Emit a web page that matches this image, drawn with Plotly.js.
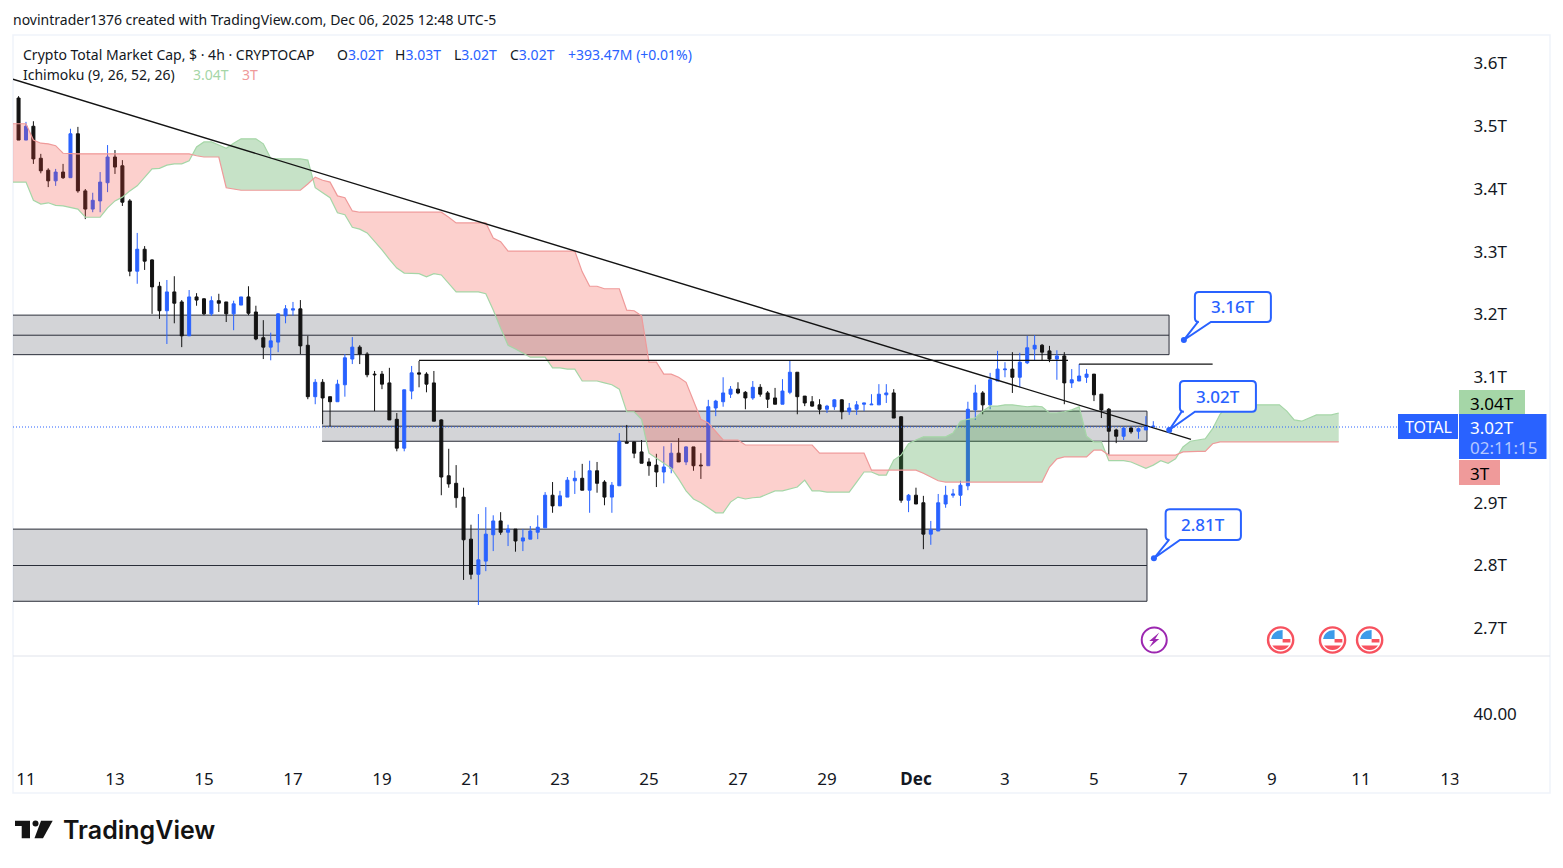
<!DOCTYPE html>
<html><head><meta charset="utf-8">
<script src="https://cdn.plot.ly/plotly-3.0.1.min.js"></script>
<style>html,body{margin:0;padding:0;background:#fff}#c{width:1563px;height:868px}</style>
</head><body><div id="c"></div>
<script>
const open=[3.545,3.478,3.500,3.449,3.430,3.413,3.427,3.418,3.488,3.397,
3.368,3.381,3.410,3.451,3.437,3.381,3.269,3.304,3.287,3.245,
3.206,3.236,3.220,3.166,3.228,3.225,3.201,3.222,3.220,3.201,
3.215,3.228,3.204,3.163,3.148,3.156,3.198,3.207,3.209,3.151,
3.069,3.092,3.069,3.061,3.088,3.129,3.148,3.137,3.105,3.105,
3.091,3.033,2.987,3.078,3.107,3.105,3.091,3.032,2.943,2.931,
2.909,2.842,2.786,2.807,2.849,2.871,2.853,2.858,2.839,2.842,
2.853,2.860,2.912,2.895,2.909,2.935,2.939,2.920,2.951,2.933,
2.909,2.927,2.997,2.997,2.981,2.965,2.960,2.949,2.955,2.979,
2.965,2.989,2.960,2.959,3.051,3.061,3.073,3.081,3.076,3.067,
3.084,3.075,3.067,3.057,3.076,3.108,3.070,3.061,3.056,3.049,
3.053,3.064,3.045,3.049,3.057,3.056,3.056,3.072,3.075,3.037,
2.904,2.912,2.900,2.850,2.855,2.898,2.912,2.912,2.927,3.048,
3.075,3.056,3.094,3.112,3.113,3.100,3.123,3.145,3.151,3.142,
3.129,3.134,3.091,3.094,3.100,3.105,3.073,3.049,3.016,3.006,
3.019,3.014,3.016,3.021];
const high=[3.548,3.507,3.508,3.456,3.433,3.432,3.440,3.496,3.499,3.400,
3.394,3.427,3.470,3.462,3.446,3.384,3.330,3.309,3.288,3.252,
3.255,3.261,3.223,3.239,3.234,3.226,3.229,3.233,3.220,3.222,
3.228,3.245,3.214,3.191,3.171,3.202,3.215,3.220,3.223,3.166,
3.097,3.097,3.069,3.096,3.137,3.164,3.151,3.140,3.110,3.110,
3.115,3.043,3.080,3.118,3.126,3.108,3.110,3.033,2.986,2.960,
2.924,2.865,2.882,2.893,2.880,2.885,2.865,2.858,2.858,2.863,
2.880,2.917,2.933,2.919,2.941,2.951,2.962,2.967,2.965,2.936,
2.933,3.011,3.024,2.997,3.000,2.971,2.978,2.990,2.995,3.003,
2.990,2.989,2.979,3.064,3.064,3.100,3.086,3.092,3.078,3.094,
3.089,3.078,3.083,3.097,3.126,3.108,3.070,3.070,3.065,3.056,
3.065,3.065,3.059,3.062,3.059,3.073,3.089,3.089,3.081,3.038,
2.914,2.924,2.911,2.871,2.914,2.927,2.922,2.935,3.061,3.088,
3.078,3.107,3.142,3.124,3.140,3.139,3.166,3.167,3.153,3.150,
3.143,3.140,3.113,3.121,3.113,3.105,3.073,3.051,3.018,3.021,
3.021,3.019,3.038,3.030];
const low=[3.478,3.478,3.440,3.425,3.403,3.405,3.416,3.418,3.394,3.352,
3.363,3.363,3.395,3.424,3.373,3.261,3.249,3.271,3.201,3.193,
3.153,3.186,3.148,3.166,3.214,3.199,3.198,3.204,3.188,3.175,
3.215,3.199,3.159,3.129,3.127,3.140,3.186,3.198,3.137,3.065,
3.057,3.025,3.022,3.061,3.069,3.121,3.121,3.100,3.046,3.081,
3.032,2.982,2.982,3.065,3.084,3.076,3.030,2.912,2.924,2.892,
2.777,2.778,2.737,2.791,2.823,2.849,2.831,2.822,2.823,2.842,
2.842,2.860,2.884,2.895,2.909,2.914,2.920,2.884,2.916,2.896,
2.884,2.927,2.995,2.971,2.963,2.943,2.925,2.931,2.947,2.965,
2.960,2.951,2.938,2.959,3.038,3.053,3.067,3.073,3.049,3.064,
3.069,3.051,3.057,3.057,3.073,3.041,3.054,3.053,3.041,3.043,
3.048,3.033,3.040,3.040,3.046,3.056,3.056,3.059,3.035,2.900,
2.885,2.898,2.826,2.833,2.855,2.892,2.908,2.895,2.920,3.032,
3.041,3.049,3.094,3.100,3.075,3.084,3.121,3.127,3.127,3.124,
3.096,3.057,3.083,3.094,3.091,3.062,3.035,2.976,2.995,3.000,
3.010,3.002,3.016,3.019];
const close=[3.478,3.500,3.448,3.429,3.413,3.427,3.418,3.488,3.397,3.368,
3.382,3.411,3.451,3.435,3.379,3.269,3.304,3.285,3.244,3.206,
3.236,3.218,3.166,3.228,3.223,3.201,3.222,3.218,3.201,3.217,
3.228,3.202,3.161,3.148,3.158,3.201,3.209,3.209,3.150,3.069,
3.092,3.067,3.061,3.089,3.131,3.148,3.137,3.104,3.104,3.089,
3.032,2.987,3.080,3.107,3.105,3.089,3.030,2.941,2.930,2.908,
2.841,2.786,2.809,2.850,2.871,2.853,2.858,2.839,2.844,2.855,
2.861,2.912,2.895,2.911,2.936,2.939,2.920,2.951,2.931,2.909,
2.928,2.998,2.995,2.979,2.963,2.959,2.949,2.957,2.979,2.965,
2.989,2.959,2.959,3.053,3.062,3.075,3.081,3.075,3.067,3.084,
3.073,3.065,3.057,3.078,3.108,3.069,3.059,3.054,3.049,3.054,
3.064,3.045,3.051,3.056,3.059,3.057,3.073,3.075,3.035,2.904,
2.912,2.898,2.850,2.857,2.900,2.912,2.914,2.928,3.049,3.075,
3.056,3.096,3.113,3.113,3.100,3.124,3.147,3.151,3.140,3.129,
3.134,3.091,3.096,3.102,3.105,3.072,3.048,3.014,3.006,3.019,
3.013,3.018,3.021,3.022];
// Ichimoku spans, one value per 4h bar, first value one bar before the first candle
const spanA=[3.411,3.411,3.411,3.382,3.376,3.378,3.374,3.373,3.371,3.368,3.355,3.355,3.355,3.370,3.381,3.387,3.397,3.405,3.418,3.432,
3.433,3.438,3.440,3.440,3.445,3.467,3.475,3.475,3.470,3.465,3.473,3.480,3.480,3.480,3.472,3.449,3.448,3.448,3.448,3.448,
3.446,3.402,3.394,3.386,3.362,3.359,3.339,3.336,3.330,3.317,3.303,3.288,3.274,3.266,3.265,3.265,3.260,3.265,3.263,3.250,
3.236,3.236,3.236,3.236,3.233,3.207,3.178,3.151,3.145,3.139,3.132,3.132,3.132,3.115,3.115,3.113,3.113,3.094,3.094,3.094,
3.091,3.088,3.081,3.045,3.045,3.033,2.979,2.971,2.962,2.955,2.938,2.919,2.906,2.900,2.892,2.884,2.884,2.901,2.909,2.906,
2.908,2.909,2.914,2.919,2.919,2.922,2.925,2.936,2.919,2.919,2.917,2.917,2.917,2.917,2.933,2.949,2.949,2.944,2.944,2.968,
2.976,2.994,3.000,3.005,3.005,3.005,3.005,3.011,3.030,3.033,3.035,3.046,3.054,3.054,3.056,3.056,3.054,3.053,3.054,3.053,
3.043,3.043,3.045,3.048,3.053,3.006,2.997,2.997,2.967,2.967,2.967,2.965,2.960,2.955,2.960,2.967,2.963,2.970,2.989,2.998,
3.000,3.002,3.018,3.041,3.056,3.056,3.056,3.056,3.056,3.056,3.056,3.056,3.046,3.032,3.030,3.035,3.040,3.040,3.040,3.043];
const spanB=[3.504,3.504,3.504,3.478,3.473,3.472,3.469,3.457,3.456,3.456,3.456,3.456,3.456,3.456,3.456,3.456,3.456,3.456,3.456,3.456,
3.456,3.456,3.456,3.456,3.456,3.453,3.451,3.451,3.451,3.402,3.400,3.398,3.398,3.398,3.398,3.398,3.398,3.398,3.398,3.398,
3.408,3.419,3.414,3.411,3.389,3.386,3.365,3.363,3.363,3.363,3.363,3.363,3.363,3.363,3.363,3.363,3.363,3.363,3.363,3.355,
3.346,3.346,3.346,3.346,3.346,3.322,3.316,3.301,3.301,3.301,3.301,3.301,3.301,3.301,3.301,3.301,3.301,3.268,3.245,3.245,
3.241,3.241,3.241,3.207,3.206,3.198,3.124,3.124,3.105,3.105,3.100,3.092,3.064,3.033,3.027,3.013,3.000,3.000,3.000,2.992,
2.992,2.992,2.992,2.992,2.992,2.992,2.992,2.992,2.992,2.979,2.979,2.979,2.979,2.979,2.979,2.979,2.952,2.952,2.952,2.952,
2.952,2.952,2.952,2.947,2.941,2.935,2.933,2.933,2.933,2.933,2.933,2.933,2.933,2.933,2.933,2.933,2.933,2.933,2.933,2.933,
2.957,2.970,2.973,2.973,2.973,2.973,2.984,2.984,2.976,2.976,2.976,2.976,2.976,2.976,2.976,2.976,2.976,2.976,2.981,2.982,
2.982,2.982,2.994,2.997,2.997,2.997,2.997,2.997,2.997,2.997,2.997,2.997,2.997,2.997,2.997,2.997,2.997,2.997,2.997,2.997];
const yTickVals=[2.7,2.8,2.9,3.1,3.2,3.3,3.4,3.5,3.6];
const yTickText=['2.7T','2.8T','2.9T','3.1T','3.2T','3.3T','3.4T','3.5T','3.6T'];
const xTickVals=['2025-11-11','2025-11-13','2025-11-15','2025-11-17','2025-11-19','2025-11-21','2025-11-23','2025-11-25','2025-11-27','2025-11-29','2025-12-01','2025-12-03','2025-12-05','2025-12-07','2025-12-09','2025-12-11','2025-12-13'];
const xTickText=['11','13','15','17','19','21','23','25','27','29','<b>Dec</b>','3','5','7','9','11','13'];
const xRange=['2025-11-10 17:00','2025-12-13 04:20'];
const lastPrice=3.0207;
const zoneLevels=[[3.199,3.167,3.136],[3.046,3.022,2.998],[2.858,2.800,2.743]];
const zoneStart=['2025-11-10 12:00','2025-11-17 15:40','2025-11-10 12:00'];
const zoneEnd=['2025-12-06 16:30','2025-12-06 04:35','2025-12-06 04:35'];
const trendX=['2025-11-10 17:00','2025-12-07 04:20'],trendY=[3.575,3.001];
const levelAX=['2025-11-19 20:00','2025-12-04 10:00'],levelAY=[3.127,3.127];
const levelBX=['2025-12-04 16:00','2025-12-07 16:00'],levelBY=[3.121,3.121];
const noteX=['2025-12-07 00:30','2025-12-06 16:35','2025-12-06 08:20'];
const noteY=[3.1594,3.0159,2.8115];
const noteText=['3.16T','3.02T','2.81T'];
const boltDate='2025-12-06 08:30';
const flagDates=['2025-12-09 04:40','2025-12-10 08:40','2025-12-11 04:40'];

const BLUE='#2962FF',INK='#131313',LINE='#2a2e39',FONT='"Noto Sans",sans-serif';
const T0=Date.UTC(2025,10,10,20),H4=4*3600e3;
const barTime=i=>T0+i*H4;
const iso=t=>new Date(t).toISOString().slice(0,16).replace('T',' ');
const barX=open.map((_,i)=>iso(barTime(i)));
const cloudT=spanA.map((_,i)=>barTime(i-1));
const cloudX=cloudT.map(iso);

// paper coordinates from page pixels
const PL=13,PW=1445,PB=762,PH=727;
const X=x=>(x-PL)/PW, Y=y=>(PB-y)/PH;
const shapes=[],ann=[];
function box(x0,y0,x1,y1,fill,extra){shapes.push(Object.assign({type:'rect',xref:'paper',yref:'paper',x0:X(x0),x1:X(x1),y0:Y(y0),y1:Y(y1),fillcolor:fill,line:{width:0},layer:'above'},extra||{}));}
function label(x,y,text,size,color,anchor,extra){ann.push(Object.assign({xref:'paper',yref:'paper',x:X(x),y:Y(y),text:text,showarrow:false,xanchor:anchor||'left',yanchor:'middle',font:{family:FONT,size:size,color:color||'#131722'},borderpad:0,borderwidth:0},extra||{}));}

// zones
zoneLevels.forEach((z,k)=>{
  const base={xref:'x',yref:'y',layer:'below'};
  shapes.push(Object.assign({type:'rect',x0:zoneStart[k],x1:zoneEnd[k],y0:z[0],y1:z[2],fillcolor:'rgba(120,123,134,0.33)',line:{width:0}},base));
  z.forEach(v=>shapes.push(Object.assign({type:'line',x0:zoneStart[k],x1:zoneEnd[k],y0:v,y1:v,line:{color:LINE,width:1}},base)));
  shapes.push(Object.assign({type:'line',x0:zoneEnd[k],x1:zoneEnd[k],y0:z[0],y1:z[2],line:{color:LINE,width:1}},base));
});

// cloud polygons between the spans
const traces=[];
let segT=[cloudT[0]],segA=[spanA[0]],segB=[spanB[0]];
function flush(up){
  const xs=segT.concat(segT.slice().reverse()).map(iso);
  const ys=segA.concat(segB.slice().reverse());
  traces.push({type:'scatter',mode:'lines',x:xs,y:ys,fill:'toself',fillcolor:up?'rgba(67,160,71,0.3)':'rgba(244,67,54,0.25)',line:{width:0},hoverinfo:'skip',showlegend:false});
}
for(let i=1;i<spanA.length;i++){
  const d0=spanA[i-1]-spanB[i-1],d1=spanA[i]-spanB[i];
  if(d0*d1<0){
    const f=d0/(d0-d1),t=cloudT[i-1]+f*H4,v=spanA[i-1]+f*(spanA[i]-spanA[i-1]);
    segT.push(t);segA.push(v);segB.push(v);flush(d0>0);
    segT=[t];segA=[v];segB=[v];
  }
  segT.push(cloudT[i]);segA.push(spanA[i]);segB.push(spanB[i]);
}
flush(spanA[spanA.length-1]>spanB[spanB.length-1]);
traces.push({type:'scatter',mode:'lines',x:cloudX,y:spanA,line:{color:'#A5D6A7',width:1.2},hoverinfo:'skip',showlegend:false});
traces.push({type:'scatter',mode:'lines',x:cloudX,y:spanB,line:{color:'#EF9A9A',width:1.2},hoverinfo:'skip',showlegend:false});

traces.push({type:'candlestick',x:barX,open:open,high:high,low:low,close:close,
  increasing:{line:{color:BLUE,width:1},fillcolor:BLUE},
  decreasing:{line:{color:INK,width:1},fillcolor:INK},showlegend:false});

const ln=(x,y,w,c)=>({type:'scatter',mode:'lines',x:x,y:y,line:{color:c||INK,width:w||1.3},hoverinfo:'skip',showlegend:false});
traces.push(ln(trendX,trendY,1.4));
traces.push(ln(levelAX,levelAY,1.2));
traces.push(ln(levelBX,levelBY,1.2));
traces.push({type:'scatter',mode:'lines',x:xRange,y:[lastPrice,lastPrice],line:{color:BLUE,width:1,dash:'1px,2px'},hoverinfo:'skip',showlegend:false});
traces.push({type:'scatter',mode:'markers',x:noteX,y:noteY,marker:{color:BLUE,size:6},hoverinfo:'skip',showlegend:false});
traces.push({type:'scatter',mode:'markers',x:[xRange[1]],y:[40],yaxis:'y2',marker:{opacity:0},hoverinfo:'skip',showlegend:false});

// callouts
function callout(x,y,l,r,b,t,w1,w2){
  const c=4;
  shapes.push({type:'path',xref:'x',yref:'y',xsizemode:'pixel',ysizemode:'pixel',xanchor:x,yanchor:y,layer:'above',fillcolor:'#fff',line:{color:BLUE,width:2},
   path:`M0 0 L${w2} ${b} L${r-c} ${b} Q${r} ${b} ${r} ${b+c} L${r} ${t-c} Q${r} ${t} ${r-c} ${t} L${l+c} ${t} Q${l} ${t} ${l} ${t-c} L${l} ${b+c} Q${l} ${b} ${l+c} ${b} L${w1} ${b} Z`});
}
callout(noteX[0],noteY[0],11,87,18,48,14,27);
callout(noteX[1],noteY[1],10.7,86.7,18.3,49,12.4,25.7);
callout(noteX[2],noteY[2],11.7,87,18.3,49,15,26);
const noteShift=[[49,33],[49,33.5],[49.5,33.5]];
noteText.forEach((t,k)=>ann.push({xref:'x',yref:'y',x:noteX[k],y:noteY[k],text:t,showarrow:false,xanchor:'center',yanchor:'middle',xshift:noteShift[k][0],yshift:noteShift[k][1],font:{family:FONT,size:17,color:BLUE,weight:500}}));

// event icons
const EVY=Y(640);
const ic=(xa,path,fill,line)=>shapes.push({type:'path',xref:'x',yref:'paper',xsizemode:'pixel',ysizemode:'pixel',xanchor:xa,yanchor:EVY,layer:'above',path:path,fillcolor:fill,line:line||{width:0}});
const circ=(xa,r,fill,col,w)=>shapes.push({type:'circle',xref:'x',yref:'paper',xsizemode:'pixel',ysizemode:'pixel',xanchor:xa,yanchor:EVY,x0:-r,x1:r,y0:-r,y1:r,layer:'above',fillcolor:fill,line:{color:col,width:w}});
circ(boltDate,12.5,'#fff','#9C27B0',2);
ic(boltDate,'M5 7.5 L-5 -1 L-1 -1 L-5 -7.5 L5 1 L1 1 Z','#9C27B0');
flagDates.forEach(d=>{
  circ(d,12.6,'#fff','#F7525F',2.4);
  ic(d,'M-9.5 1 Q-8.5 7 -3 9.3 L2 10 L2 1 Z','#3D9BE9');
  ic(d,'M2 1 L2 -2.5 L9.8 -2.5 L9.8 1 Z','#F7525F');
  ic(d,'M-8.4 -5.5 L8.4 -5.5 Q5 -10 0 -10 Q-5 -10 -8.4 -5.5 Z','#F7525F');
});

// frame and panel divider
shapes.push({type:'rect',xref:'paper',yref:'paper',x0:X(13),x1:X(1550),y0:Y(793),y1:Y(35),line:{color:'#F0F3FA',width:1.5},fillcolor:'rgba(0,0,0,0)',layer:'below'});
shapes.push({type:'line',xref:'paper',yref:'paper',x0:X(13),x1:X(1550),y0:Y(656),y1:Y(656),line:{color:'#E0E3EB',width:1},layer:'below'});
box(1458.5,763,1470,790,'#fff');

// price scale labels
box(1398,414,1458,439,BLUE);
box(1459,390,1525,414,'#A5D6A7');
box(1459,414,1546.5,459,BLUE);
box(1459,460,1500,485,'#EF9A9A');
label(1428,427,'TOTAL',16,'#fff','center');
label(1470,403,'3.04T',17,'#000');
label(1470,427,'3.02T',17,'#fff');
label(1470,447,'02:11:15',17,'#B4C7FF');
label(1470,473,'3T',17,'#000');

// header and legend
label(13,19.5,'novintrader1376 created with TradingView.com, Dec 06, 2025 12:48 UTC-5',14,'#131722');
label(23,54,'Crypto Total Market Cap, $ · 4h · CRYPTOCAP',14,'#131722');
[[336.5,'O','3.02T'],[395,'H','3.03T'],[453.6,'L','3.02T'],[509.6,'C','3.02T']].forEach(a=>label(a[0],54,a[1]+'<span style="color:#2962FF">'+a[2]+'</span>',14,'#131722'));
label(568,54,'+393.47M (+0.01%)',14,BLUE);
label(23,74.5,'Ichimoku (9, 26, 52, 26)',14,'#131722');
label(193,74.5,'3.04T',14,'#A5D6A7');
label(242,74.5,'3T',14,'#EF9A9A');

// TradingView mark
const pp=(p)=>shapes.push({type:'path',xref:'paper',yref:'paper',layer:'above',fillcolor:'#131313',line:{width:0},path:p});
const P=(x,y)=>X(x)+' '+Y(y);
pp('M'+P(15,820.7)+' L'+P(30,820.7)+' L'+P(30,838.3)+' L'+P(21.7,838.3)+' L'+P(21.7,826)+' L'+P(15,826)+' Z');
pp('M'+P(41,820.7)+' L'+P(52.7,820.7)+' L'+P(43,838.3)+' L'+P(34.5,838.3)+' Z');
shapes.push({type:'circle',xref:'paper',yref:'paper',x0:X(32.5),x1:X(38.5),y0:Y(826.5),y1:Y(820.5),fillcolor:'#131313',line:{width:0},layer:'above'});
ann.push({xref:'paper',yref:'paper',x:X(61),y:Y(830.5),text:'TradingView',showarrow:false,xanchor:'left',yanchor:'middle',font:{family:'Inter,sans-serif',size:25,color:'#131313',weight:600}});

const tickFont={family:FONT,size:17,color:'#131722'};
const layout={width:1563,height:868,margin:{l:PL,r:1563-1458,t:35,b:868-PB,pad:0},paper_bgcolor:'#fff',plot_bgcolor:'#fff',
  showlegend:false,dragmode:false,boxgap:0.42,
  xaxis:{type:'date',range:xRange,anchor:'y2',tickmode:'array',tickvals:xTickVals,ticktext:xTickText,showgrid:false,zeroline:false,showline:false,ticks:'outside',ticklen:2,tickcolor:'rgba(0,0,0,0)',tickfont:tickFont,rangeslider:{visible:false},fixedrange:true},
  yaxis:{domain:[(PB-656)/PH,1],range:[3+(440-656)/627.5,3+(440-35)/627.5],side:'right',anchor:'x',tickmode:'array',tickvals:yTickVals,ticktext:yTickText,showgrid:false,zeroline:false,showline:false,ticks:'outside',ticklen:11,tickcolor:'rgba(0,0,0,0)',tickfont:tickFont,fixedrange:true},
  yaxis2:{domain:[0,(PB-656)/PH],range:[0,88.3],side:'right',anchor:'x',tickmode:'array',tickvals:[40],ticktext:['40.00'],showgrid:false,zeroline:false,showline:false,ticks:'outside',ticklen:11,tickcolor:'rgba(0,0,0,0)',tickfont:tickFont,fixedrange:true},
  shapes:shapes,annotations:ann};
Plotly.newPlot('c',traces,layout,{displayModeBar:false,staticPlot:true,responsive:false});
</script></body></html>
